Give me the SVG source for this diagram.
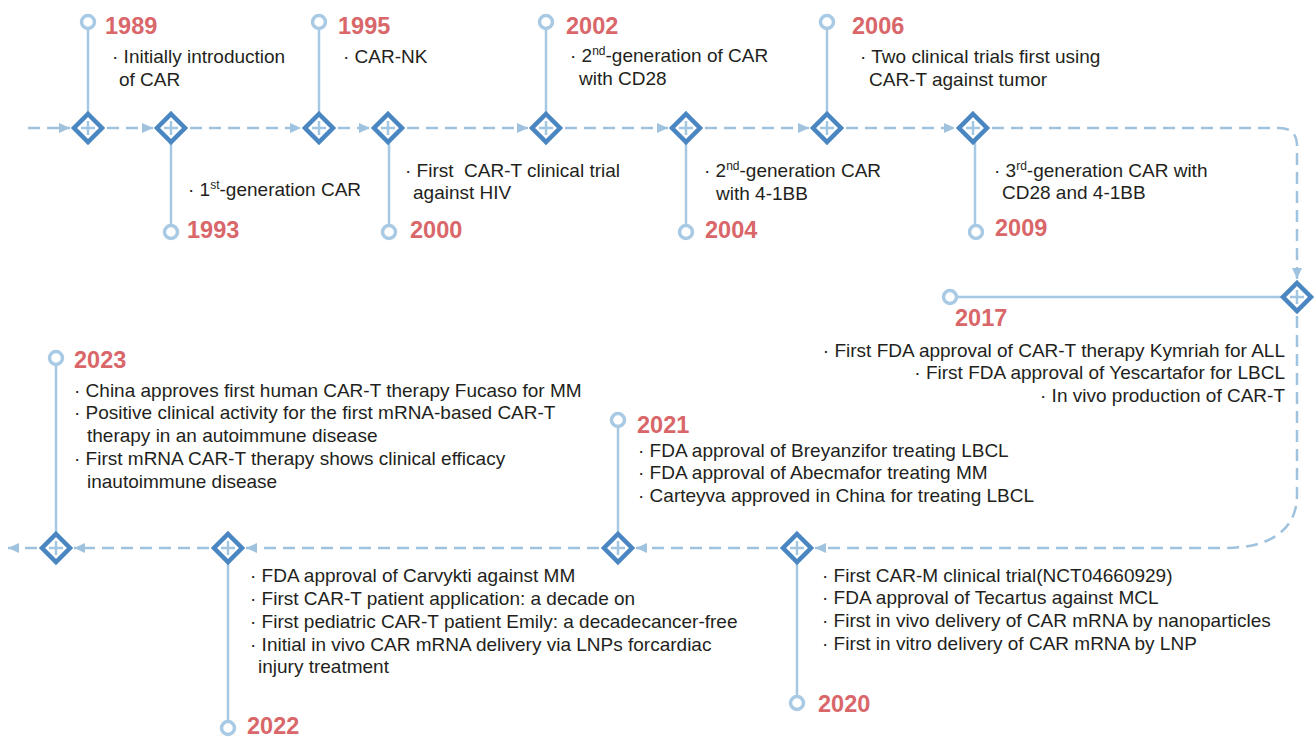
<svg xmlns="http://www.w3.org/2000/svg" xmlns:xlink="http://www.w3.org/1999/xlink" width="1316" height="737" viewBox="0 0 1316 737">
<style>
.bg{fill:#ffffff}
.dash{fill:none;stroke:#9fc2df;stroke-width:2.5;stroke-dasharray:12 7}
.stem{fill:none;stroke:#a6c8e3;stroke-width:2.5}
.ring{fill:#ffffff;stroke:#a9cae4;stroke-width:3.5}
.dia{fill:#ffffff;stroke:#4a86c1;stroke-width:4.5;stroke-linejoin:miter}
.plus{fill:none;stroke:#a3c6e3;stroke-width:2.5}
.yr{font-family:"Liberation Sans",Arial,sans-serif;font-weight:bold;font-size:23.5px;fill:#d9676a}
.tx{font-family:"Liberation Sans",Arial,sans-serif;font-size:19px;fill:#231f20}
.r{text-anchor:end}
.sup{font-size:12px}
</style>
<defs>
<marker id="ah" markerUnits="userSpaceOnUse" markerWidth="12" markerHeight="10" refX="11" refY="5" orient="auto">
<path d="M0,0 L11,5 L0,10 Z" fill="#9fc2df"/>
</marker>
<g id="node">
<path class="dia" d="M0,-14 L14,0 L0,14 L-14,0 Z"/>
<path class="plus" d="M-7,0 H7 M0,-7 V7"/>
</g>
</defs>
<rect class="bg" x="0" y="0" width="1316" height="737"/>

<g id="connectors">
<path class="dash" d="M28,128 H70" marker-end="url(#ah)"/>
<path class="dash" d="M107,128 H153" marker-end="url(#ah)"/>
<path class="dash" d="M190,128 H301" marker-end="url(#ah)"/>
<path class="dash" d="M338,128 H370" marker-end="url(#ah)"/>
<path class="dash" d="M407,128 H528" marker-end="url(#ah)"/>
<path class="dash" d="M565,128 H668" marker-end="url(#ah)"/>
<path class="dash" d="M705,128 H809" marker-end="url(#ah)"/>
<path class="dash" d="M846,128 H955" marker-end="url(#ah)"/>
<path class="dash" d="M992,128 H1279 Q1297,128 1297,146 V279" marker-end="url(#ah)"/>
<path class="dash" d="M1297,316 V495 C1297,530 1270,548 1225,548 H815" marker-end="url(#ah)"/>
<path class="dash" d="M778,548 H636" marker-end="url(#ah)"/>
<path class="dash" d="M599,548 H246" marker-end="url(#ah)"/>
<path class="dash" d="M209,548 H74" marker-end="url(#ah)"/>
<path class="dash" d="M37,548 H8" marker-end="url(#ah)"/>
</g>

<g id="n1989">
<path class="stem" d="M88,29 V114"/>
<circle class="ring" cx="88" cy="22" r="6.5"/>
<use xlink:href="#node" x="88" y="128"/>
<text class="yr" x="105" y="34">1989</text>
<text class="tx" x="112" y="63">· Initially introduction</text>
<text class="tx" x="119" y="86">of CAR</text>
</g>

<g id="n1993">
<path class="stem" d="M171,142 V225"/>
<circle class="ring" cx="171" cy="232" r="6.5"/>
<use xlink:href="#node" x="171" y="128"/>
<text class="yr" x="187" y="238">1993</text>
<text class="tx" x="188" y="196">· 1<tspan class="sup" dy="-7">st</tspan><tspan dy="7">-generation CAR</tspan></text>
</g>

<g id="n1995">
<path class="stem" d="M319,29 V114"/>
<circle class="ring" cx="319" cy="22" r="6.5"/>
<use xlink:href="#node" x="319" y="128"/>
<text class="yr" x="338" y="34">1995</text>
<text class="tx" x="343" y="63">· CAR-NK</text>
</g>

<g id="n2000">
<path class="stem" d="M389,142 V225"/>
<circle class="ring" cx="389" cy="232" r="6.5"/>
<use xlink:href="#node" x="388" y="128"/>
<text class="yr" x="410" y="238">2000</text>
<text class="tx" x="405" y="177" xml:space="preserve">· First  CAR-T clinical trial</text>
<text class="tx" x="413" y="199">against HIV</text>
</g>

<g id="n2002">
<path class="stem" d="M546,29 V114"/>
<circle class="ring" cx="546" cy="22" r="6.5"/>
<use xlink:href="#node" x="546" y="128"/>
<text class="yr" x="566" y="34">2002</text>
<text class="tx" x="570" y="62">· 2<tspan class="sup" dy="-7">nd</tspan><tspan dy="7">-generation of CAR</tspan></text>
<text class="tx" x="579" y="85">with CD28</text>
</g>

<g id="n2004">
<path class="stem" d="M686,142 V225"/>
<circle class="ring" cx="686" cy="232" r="6.5"/>
<use xlink:href="#node" x="686" y="128"/>
<text class="yr" x="705" y="238">2004</text>
<text class="tx" x="704" y="177">· 2<tspan class="sup" dy="-7">nd</tspan><tspan dy="7">-generation CAR</tspan></text>
<text class="tx" x="716" y="200">with 4-1BB</text>
</g>

<g id="n2006">
<path class="stem" d="M827,29 V114"/>
<circle class="ring" cx="827" cy="22" r="6.5"/>
<use xlink:href="#node" x="827" y="128"/>
<text class="yr" x="852" y="34">2006</text>
<text class="tx" x="860" y="63">· Two clinical trials first using</text>
<text class="tx" x="869" y="86">CAR-T against tumor</text>
</g>

<g id="n2009">
<path class="stem" d="M975,142 V225"/>
<circle class="ring" cx="976" cy="232" r="6.5"/>
<use xlink:href="#node" x="973" y="128"/>
<text class="yr" x="995" y="236">2009</text>
<text class="tx" x="994" y="177">· 3<tspan class="sup" dy="-7">rd</tspan><tspan dy="7">-generation CAR with</tspan></text>
<text class="tx" x="1002" y="199">CD28 and 4-1BB</text>
</g>

<g id="n2017">
<path class="stem" d="M957,297 H1283"/>
<circle class="ring" cx="950" cy="297" r="6.5"/>
<use xlink:href="#node" x="1297" y="297"/>
<text class="yr" x="955" y="326">2017</text>
<text class="tx r" x="1285" y="357">· First FDA approval of CAR-T therapy Kymriah for ALL</text>
<text class="tx r" x="1285" y="379">· First FDA approval of Yescartafor for LBCL</text>
<text class="tx r" x="1285" y="402">· In vivo production of CAR-T</text>
</g>

<g id="n2020">
<path class="stem" d="M797,562 V696"/>
<circle class="ring" cx="797" cy="703" r="6.5"/>
<use xlink:href="#node" x="797" y="548"/>
<text class="yr" x="818" y="712">2020</text>
<text class="tx" x="822" y="582">· First CAR-M clinical trial(NCT04660929)</text>
<text class="tx" x="822" y="604">· FDA approval of Tecartus against MCL</text>
<text class="tx" x="822" y="627">· First in vivo delivery of CAR mRNA by nanoparticles</text>
<text class="tx" x="822" y="650">· First in vitro delivery of CAR mRNA by LNP</text>
</g>

<g id="n2021">
<path class="stem" d="M618,427 V534"/>
<circle class="ring" cx="618" cy="420" r="6.5"/>
<use xlink:href="#node" x="618" y="548"/>
<text class="yr" x="637" y="433">2021</text>
<text class="tx" x="638" y="457">· FDA approval of Breyanzifor treating LBCL</text>
<text class="tx" x="638" y="479">· FDA approval of Abecmafor treating MM</text>
<text class="tx" x="638" y="502">· Carteyva approved in China for treating LBCL</text>
</g>

<g id="n2022">
<path class="stem" d="M228,562 V721"/>
<circle class="ring" cx="228" cy="728" r="6.5"/>
<use xlink:href="#node" x="228" y="548"/>
<text class="yr" x="247" y="734">2022</text>
<text class="tx" x="250" y="582">· FDA approval of Carvykti against MM</text>
<text class="tx" x="250" y="605">· First CAR-T patient application: a decade on</text>
<text class="tx" x="250" y="628">· First pediatric CAR-T patient Emily: a decadecancer-free</text>
<text class="tx" x="250" y="651">· Initial in vivo CAR mRNA delivery via LNPs forcardiac</text>
<text class="tx" x="258" y="673">injury treatment</text>
</g>

<g id="n2023">
<path class="stem" d="M56,365 V534"/>
<circle class="ring" cx="56" cy="358" r="6.5"/>
<use xlink:href="#node" x="56" y="548"/>
<text class="yr" x="74" y="368">2023</text>
<text class="tx" x="74" y="397">· China approves first human CAR-T therapy Fucaso for MM</text>
<text class="tx" x="74" y="419">· Positive clinical activity for the first mRNA-based CAR-T</text>
<text class="tx" x="87" y="442">therapy in an autoimmune disease</text>
<text class="tx" x="74" y="465">· First mRNA CAR-T therapy shows clinical efficacy</text>
<text class="tx" x="87" y="488">inautoimmune disease</text>
</g>
</svg>
